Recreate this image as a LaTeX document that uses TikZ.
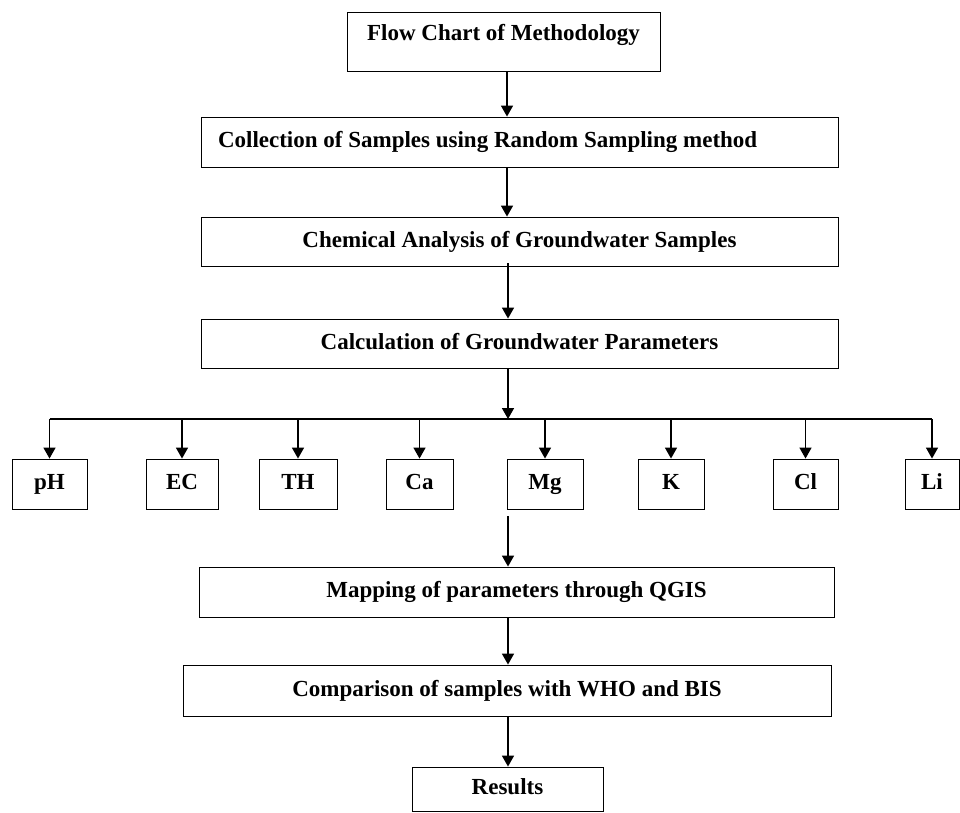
\documentclass[tikz,border=0pt]{standalone}
\usepackage{fontspec}
\setmainfont{Liberation Serif}
\usepackage{tikz}
\usetikzlibrary{positioning,arrows.meta,calc}

\begin{document}
\begin{tikzpicture}[
        x=1pt, y=-1pt,
        stage/.style={
            rectangle, draw=black, line width=0.9pt,
            minimum width=637pt, minimum height=50pt,
            align=center, inner sep=0pt,
            text height=16pt, text depth=5pt,
            font=\fontsize{23}{27}\selectfont\bfseries
        },
        param/.style={
            rectangle, draw=black, line width=0.9pt,
            minimum height=50pt, inner sep=0pt,
            text height=16pt, text depth=5pt,
            font=\fontsize{23}{27}\selectfont\bfseries
        },
        arrow/.style={-{Triangle[width=12pt,length=11pt]}, line width=1.6pt, draw=black}
    ]
        \useasboundingbox (0,0) rectangle (960,812);

        \node[stage, minimum width=313pt, minimum height=59pt] (title) at (503.5,41.5)
            {\raisebox{7pt}{Flow Chart of Methodology}};
        \node[stage] (collect) at (519.5,142)
            {\makebox[603pt][l]{Collection of Samples using Random Sampling method}};
        \node[stage, minimum height=49pt] (chem) at (519.5,241.5) {Chemical Analysis of Groundwater Samples};
        \node[stage, minimum height=49pt] (calc) at (519.5,343.5) {Calculation of Groundwater Parameters};

        \coordinate (spine) at (507,0);
        \coordinate (hub) at (508,419);

        % parameter boxes
        \foreach \name/\x/\w in {pH/49.5/75, EC/182/72, TH/298/78, Ca/419.5/67,
                                 Mg/545/76, K/671/66, Cl/805.5/65, Li/932/54} {
            \node[param, minimum width=\w pt] (\name) at (\x,484) {\name};
            \draw[arrow] (\name |- hub) -- (\name.north);
        }

        \node[stage, minimum width=635pt] (mapping) at (516.5,592) {Mapping of parameters through QGIS};
        \node[stage, minimum width=648pt, minimum height=51pt] (compare) at (507,690.5) {Comparison of samples with WHO and BIS};
        \node[stage, minimum width=191pt, minimum height=44pt] (results) at (507.5,789) {Results};

        \draw[arrow] (spine |- title.south) -- (spine |- collect.north);
        \draw[arrow] (spine |- collect.south) -- (spine |- chem.north);
        \draw[arrow] ([yshift=3pt]hub |- chem.south) -- (hub |- calc.north);
        \draw[arrow] (hub |- calc.south) -- (hub);
        \draw[line width=1.3pt] (pH |- hub) -- (Li |- hub);
        \draw[arrow, shorten <=7pt] (hub |- Mg.south) -- (hub |- mapping.north);
        \draw[arrow] (hub |- mapping.south) -- (hub |- compare.north);
        \draw[arrow] (hub |- compare.south) -- (hub |- results.north);
    \end{tikzpicture}
\end{document}
